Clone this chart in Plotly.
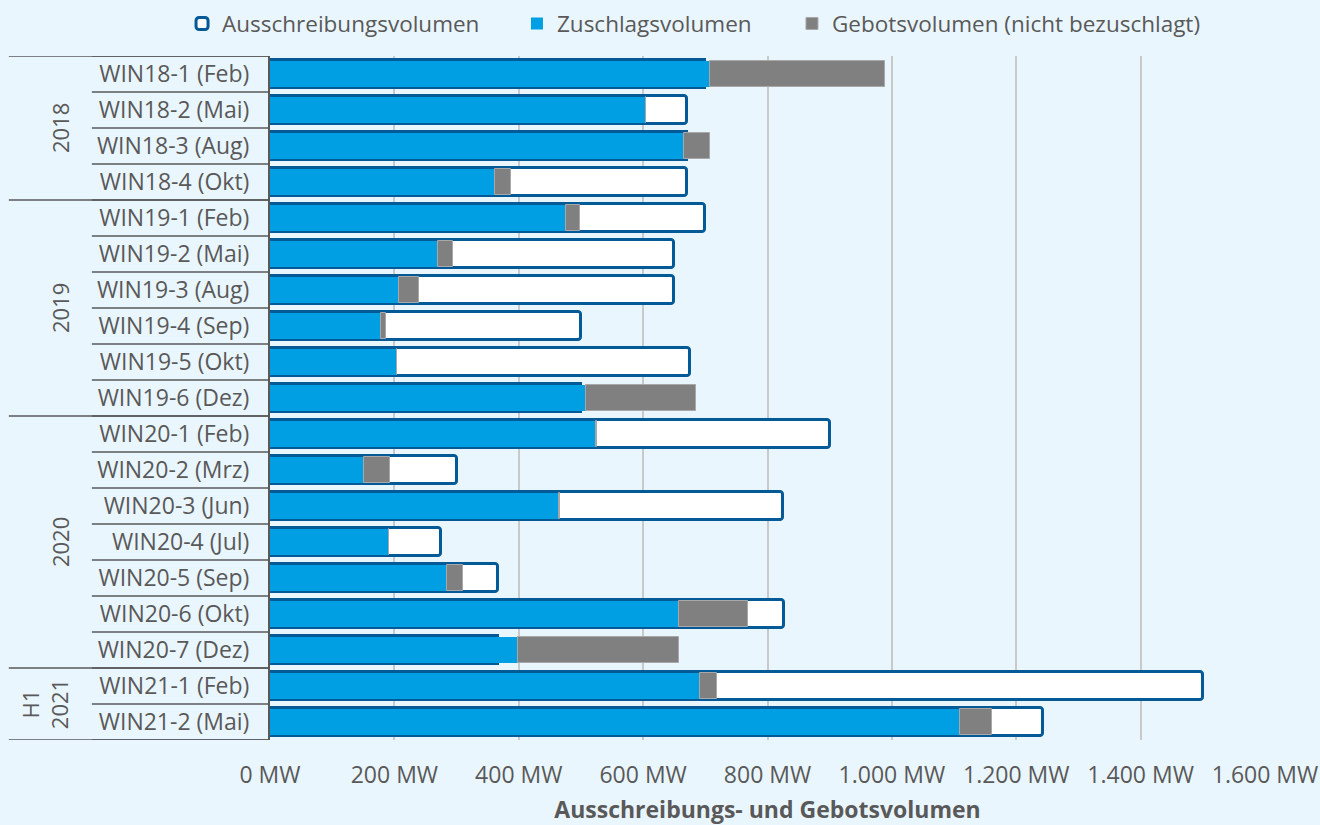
import plotly.graph_objects as go

# ---- data ----
categories = [
    "WIN18-1 (Feb)", "WIN18-2 (Mai)", "WIN18-3 (Aug)", "WIN18-4 (Okt)",
    "WIN19-1 (Feb)", "WIN19-2 (Mai)", "WIN19-3 (Aug)", "WIN19-4 (Sep)",
    "WIN19-5 (Okt)", "WIN19-6 (Dez)",
    "WIN20-1 (Feb)", "WIN20-2 (Mrz)", "WIN20-3 (Jun)", "WIN20-4 (Jul)",
    "WIN20-5 (Sep)", "WIN20-6 (Okt)", "WIN20-7 (Dez)",
    "WIN21-1 (Feb)", "WIN21-2 (Mai)",
]
ausschreibung = [700, 670, 670, 670, 700, 650, 650, 500, 675, 500,
                 900, 300, 825, 275, 367, 826, 367, 1500, 1243]
zuschlag = [708, 604, 666, 362, 476, 270, 208, 179, 204, 508,
            524, 151, 464, 191, 284, 658, 399, 691, 1110]
nicht_bezuschlagt = [281, 0, 42, 25, 23, 24, 31, 8, 0, 177,
                     2, 42, 2, 0, 26, 110, 258, 27, 51]

groups = ["2018", "2019", "2020", "H1<br>2021"]
group_sizes = [4, 6, 7, 2]

tick_vals = [0, 200, 400, 600, 800, 1000, 1200, 1400, 1600]
tick_text = ["0 MW", "200 MW", "400 MW", "600 MW", "800 MW",
             "1.000 MW", "1.200 MW", "1.400 MW", "1.600 MW"]

# ---- style ----
BG = "#EAF6FE"
DARK = "#035A96"
BLUE = "#009FE3"
GRAY = "#808080"
TXT = "#595959"
FONT = "Open Sans"
FS = 23

fig = go.Figure()
fig.add_trace(go.Bar(
    y=categories, x=ausschreibung, orientation="h", name="Ausschreibungsvolumen",
    width=0.8, legend="legend",
    marker=dict(color="white", line=dict(color=DARK, width=3), cornerradius=3),
))
fig.add_trace(go.Bar(
    y=categories, x=zuschlag, orientation="h", name="Zuschlagsvolumen",
    width=0.72, legend="legend2", marker=dict(color=BLUE, line=dict(width=0)),
))
fig.add_trace(go.Bar(
    y=categories, x=nicht_bezuschlagt, base=zuschlag, orientation="h",
    name="Gebotsvolumen (nicht bezuschlagt)", legend="legend3",
    width=0.72, marker=dict(color=GRAY, line=dict(color="#A8A8A8", width=1)),
))

shapes = []
n = len(categories)
# category separators
for i in range(n + 1):
    shapes.append(dict(type="line", xref="paper", yref="y", x0=-0.179, x1=0,
                       y0=i - 0.5, y1=i - 0.5, line=dict(color=TXT, width=1.5)))
# group separators
start = 0
bounds = [0]
for s in group_sizes:
    start += s
    bounds.append(start)
for b in bounds:
    shapes.append(dict(type="line", xref="paper", yref="y", x0=-0.2625, x1=0,
                       y0=b - 0.5, y1=b - 0.5, line=dict(color=TXT, width=1.5)))

annotations = []
for g, a, b in zip(groups, bounds[:-1], bounds[1:]):
    annotations.append(dict(
        text=g, xref="paper", yref="y", x=-0.211 if "<br>" not in g else -0.227,
        y=(a + b - 1) / 2, textangle=-90, showarrow=False,
        xanchor="center", yanchor="middle",
        font=dict(family=FONT, size=FS - 1, color=TXT),
    ))

def leg(x):
    return dict(orientation="h", x=x, xanchor="left", y=1.047, yanchor="middle",
                bgcolor="rgba(0,0,0,0)", font=dict(family=FONT, size=22.5, color=TXT),
                itemwidth=30)

fig.update_layout(
    width=1320, height=825,
    paper_bgcolor=BG, plot_bgcolor=BG,
    barmode="overlay", bargap=0,
    margin=dict(l=270, r=55, t=56, b=85, autoexpand=False),
    font=dict(family=FONT, size=FS, color=TXT),
    shapes=shapes, annotations=annotations,
    legend=leg(-0.0884), legend2=leg(0.2482), legend3=leg(0.5246),
    showlegend=True,
)
fig.update_xaxes(
    range=[0, 1600], tickvals=tick_vals, ticktext=tick_text,
    showgrid=True, gridcolor="#C9C9C9", gridwidth=2, zeroline=False,
    showline=False, ticks="", ticklabelstandoff=19, automargin=False,
    tickfont=dict(family=FONT, size=FS, color=TXT),
    title=dict(text="<b>Ausschreibungs- und Gebotsvolumen</b>", standoff=12,
               font=dict(family=FONT, size=FS, color=TXT)),
)
fig.update_yaxes(
    categoryorder="array", categoryarray=categories,
    range=[n - 0.5, -0.5], showgrid=False, zeroline=False, automargin=False,
    showline=True, linecolor=TXT, linewidth=2, ticks="", ticklabelstandoff=14,
    tickfont=dict(family=FONT, size=FS, color=TXT),
)

fig.write_html("out.html", config={"displayModeBar": False},
               post_script="document.body.style.margin='0px';")
